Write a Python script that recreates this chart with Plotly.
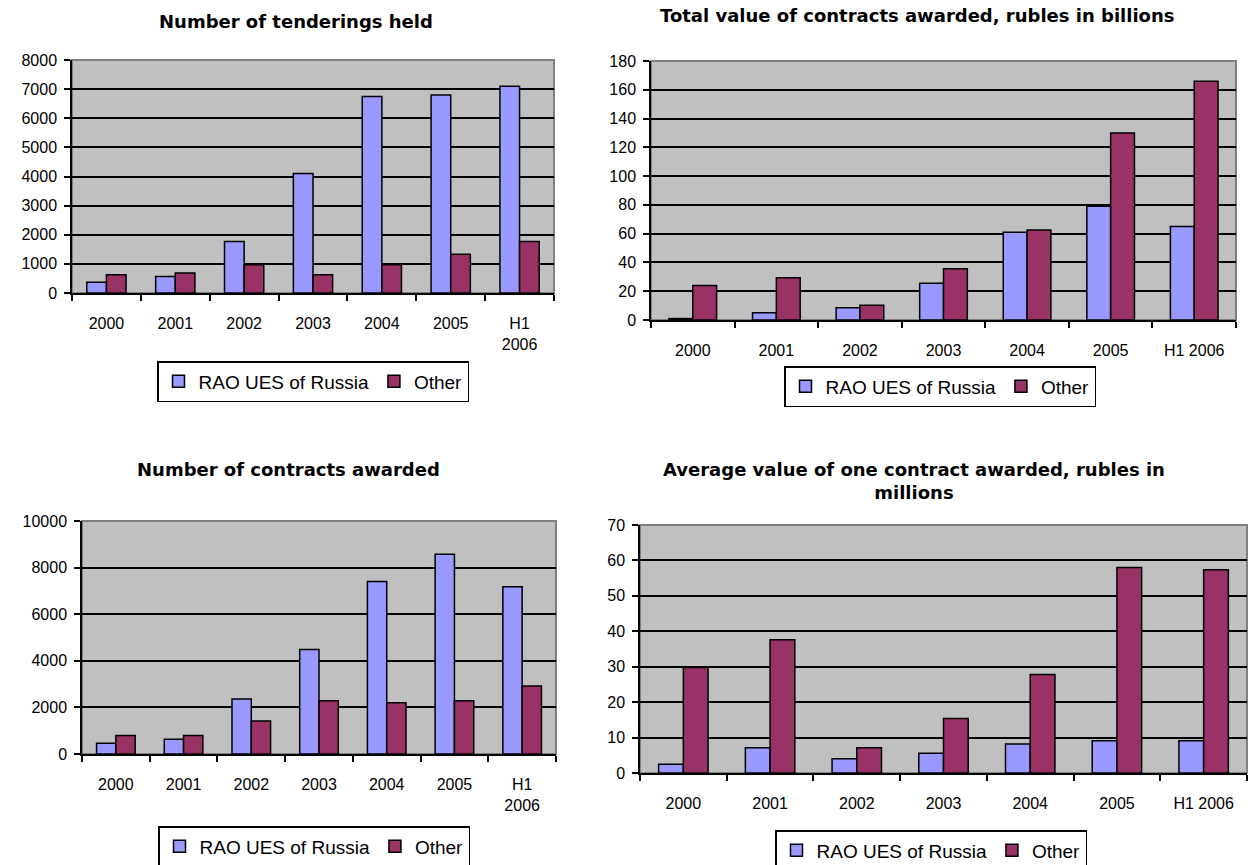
import plotly.graph_objects as go

categories_left = ["2000", "2001", "2002", "2003", "2004", "2005", "H1<br>2006"]
categories_right = ["2000", "2001", "2002", "2003", "2004", "2005", "H1 2006"]
series_names = ["RAO UES of Russia", "Other"]

tenderings_rao = [370, 570, 1770, 4100, 6750, 6800, 7100]
tenderings_other = [630, 690, 970, 630, 970, 1330, 1770]

total_value_rao = [1, 5, 8.6, 25.5, 61, 79, 65]
total_value_other = [24, 29.4, 10.2, 35.7, 62.5, 130, 166]

contracts_rao = [460, 630, 2360, 4490, 7400, 8570, 7180]
contracts_other = [790, 790, 1420, 2290, 2200, 2290, 2920]

avg_value_rao = [2.5, 7.1, 4.0, 5.6, 8.2, 9.1, 9.1]
avg_value_other = [29.8, 37.6, 7.1, 15.4, 27.8, 58.0, 57.4]

titles = [
    "Number of tenderings held",
    "Total value of contracts awarded, rubles in billions",
    "Number of contracts awarded",
    "Average value of one contract awarded, rubles in<br>millions",
]

COL_RAO = "#9999FF"
COL_OTHER = "#993366"
W, H = 1256, 865


def px_x(v):
    return v / W


def px_y(v):
    return 1 - v / H


# panel geometry in page pixels: (left, right, top, bottom)
panels = [
    (72, 554, 60, 293),
    (651, 1236, 61, 320),
    (82, 556, 521, 754),
    (640, 1247, 525, 773),
]
yranges = [(0, 8000, 1000), (0, 180, 20), (0, 10000, 2000), (0, 70, 10)]
data = [
    (categories_left, tenderings_rao, tenderings_other),
    (categories_right, total_value_rao, total_value_other),
    (categories_left, contracts_rao, contracts_other),
    (categories_right, avg_value_rao, avg_value_other),
]
title_pos = [(296, 22), (917, 16), (288, 470), (914, 481)]
legend_pos = [(313, 361), (940, 366), (314, 826), (931, 830)]

fig = go.Figure()
font_tick = dict(family="Liberation Sans, Arial, sans-serif", size=16, color="#000000")

for i in range(4):
    n = "" if i == 0 else str(i + 1)
    cats, rao, other = data[i]
    lg = "legend" if i == 0 else f"legend{i + 1}"
    for name, vals, col in ((series_names[0], rao, COL_RAO), (series_names[1], other, COL_OTHER)):
        fig.add_trace(go.Bar(
            x=cats, y=vals, name=name,
            marker=dict(color=col, line=dict(color="#000000", width=1.5)),
            xaxis="x" + n, yaxis="y" + n, legend=lg,
        ))
    l, r, t, b = panels[i]
    y0, y1, dt = yranges[i]
    fig.update_layout(**{
        "xaxis" + n: dict(
            domain=[px_x(l), px_x(r)], anchor="y" + n, type="category",
            showline=True, linecolor="#000000", linewidth=1.5,
            ticks="outside", tickson="boundaries", ticklen=6, tickcolor="#000000",
            tickwidth=1.5, ticklabelstandoff=15,
            tickfont=font_tick, showgrid=False, fixedrange=True,
        ),
        "yaxis" + n: dict(
            domain=[px_y(b), px_y(t)], anchor="x" + n,
            range=[y0, y1], dtick=dt, tick0=0, tickformat="d",
            showline=True, linecolor="#000000", linewidth=1.5,
            ticks="outside", ticklen=6, tickcolor="#000000", tickwidth=1.5,
            ticklabelstandoff=4,
            showgrid=True, gridcolor="#000000", gridwidth=1.5,
            tickfont=font_tick, zeroline=False, fixedrange=True,
        ),
        lg: dict(
            x=px_x(legend_pos[i][0]), y=px_y(legend_pos[i][1]),
            xanchor="center", yanchor="top", orientation="h",
            bordercolor="#000000", borderwidth=1.5, bgcolor="#FFFFFF",
            font=dict(family="Liberation Sans, Arial, sans-serif", size=19, color="#000000"),
            itemwidth=30, tracegroupgap=0,
        ),
    })
    fig.add_shape(type="rect", xref=f"x{n} domain", yref=f"y{n} domain",
                  x0=0, x1=1, y0=0, y1=1, layer="below",
                  fillcolor="#C0C0C0", line=dict(color="#808080", width=2))
    fig.add_annotation(
        text="<b>" + titles[i] + "</b>", xref="paper", yref="paper",
        x=px_x(title_pos[i][0]), y=px_y(title_pos[i][1]),
        xanchor="center", yanchor="middle", showarrow=False,
        font=dict(family="DejaVu Sans, sans-serif", size=18, color="#000000"),
        align="center",
    )

fig.update_layout(
    width=W, height=H,
    margin=dict(l=0, r=0, t=0, b=0, autoexpand=False),
    paper_bgcolor="#FFFFFF", plot_bgcolor="#C0C0C0",
    barmode="group", bargap=0.43, bargroupgap=0,
    showlegend=True,
)

fig.write_html(
    "out.html",
    config={"displayModeBar": False},
    post_script="document.body.style.margin='0px'; document.body.style.overflow='hidden';",
)
